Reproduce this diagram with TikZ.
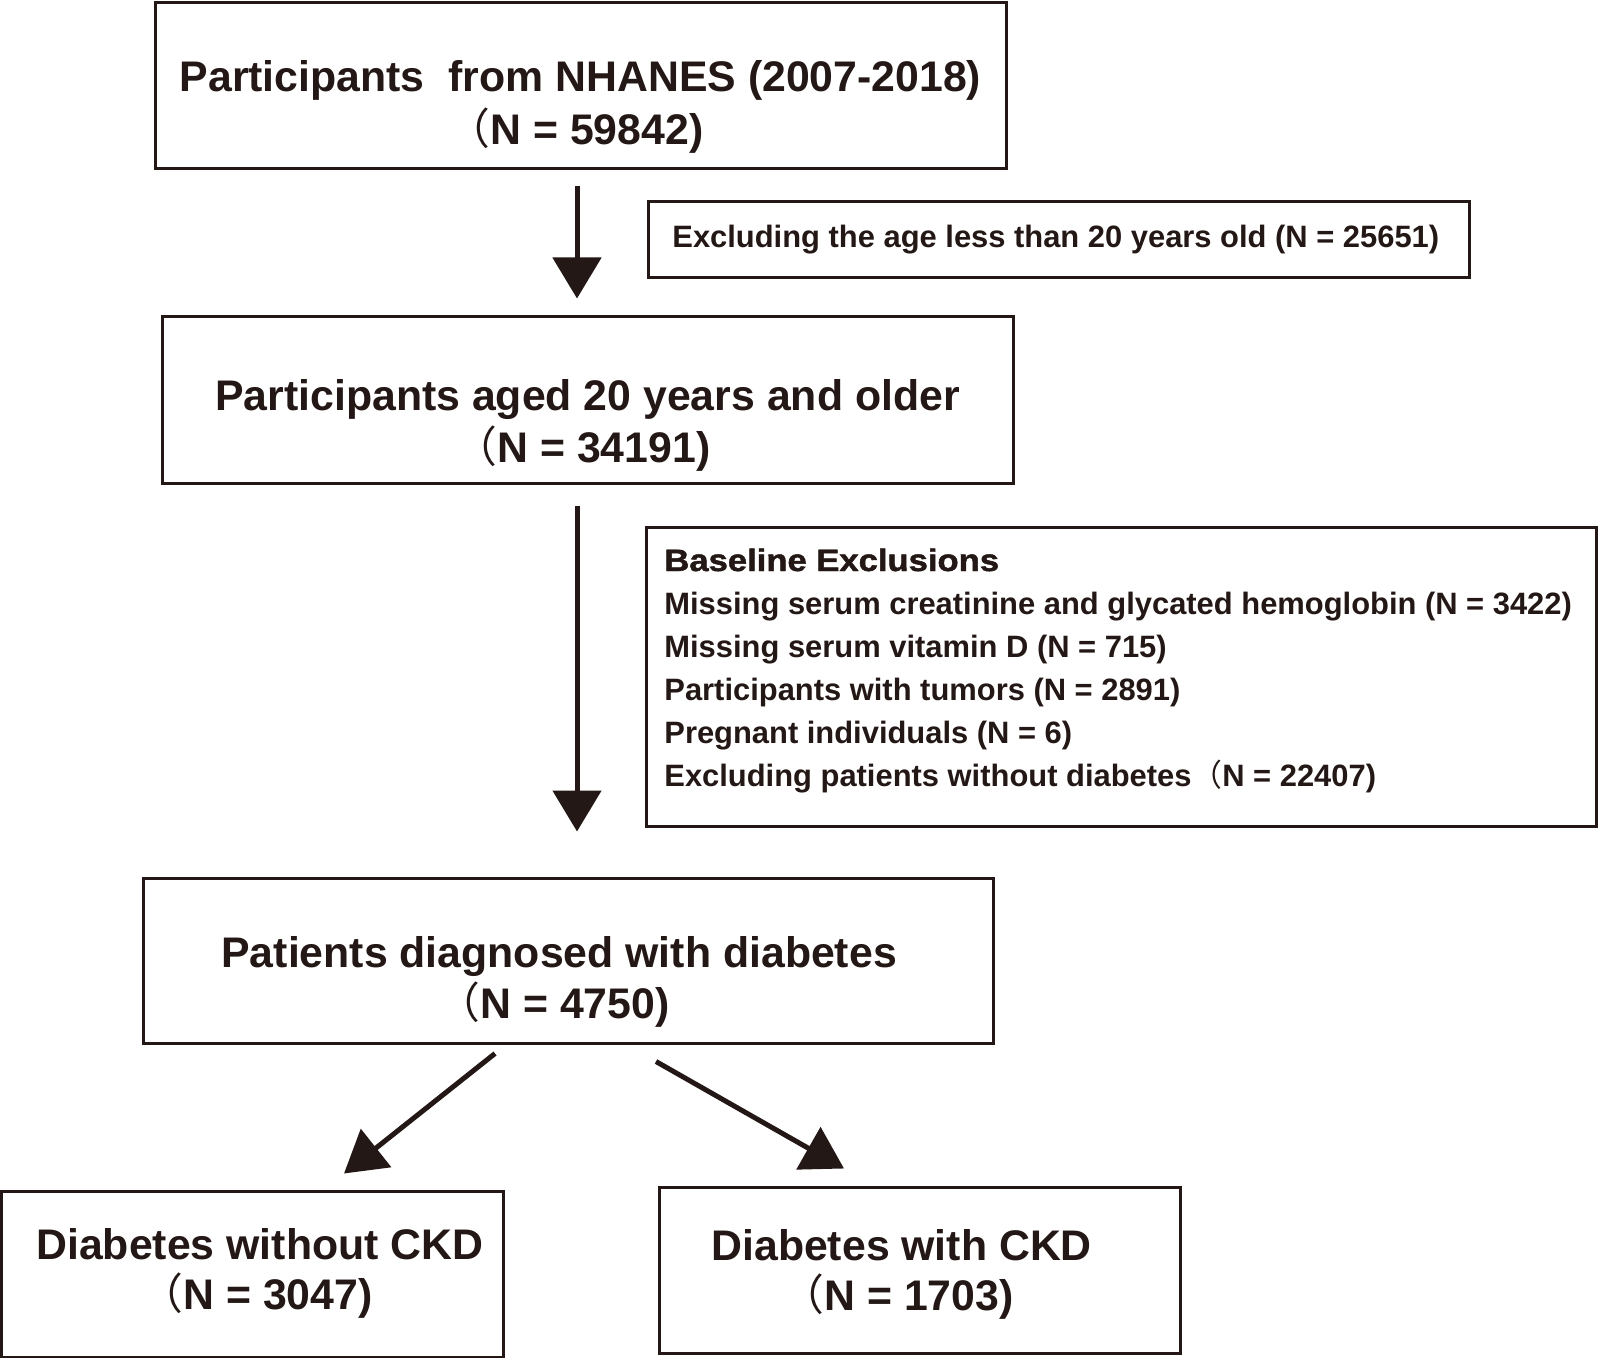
\documentclass[tikz,border=0pt]{standalone}
\usepackage{fontspec}
\setmainfont{Liberation Sans}
\newfontfamily\cjk{Noto Sans CJK JP}
\newfontfamily\heavy[FakeBold=1.5,FakeStretch=1.12]{Liberation Sans Bold}
\usetikzlibrary{arrows.meta}
\definecolor{ink}{HTML}{231815}
\newcommand\bigf{\fontsize{21.4pt}{25pt}\selectfont\bfseries}
\newcommand\smallf{\fontsize{15.45pt}{18pt}\selectfont\bfseries}
\newcommand\fwp{\llap{{\mdseries\cjk （}}}
\begin{document}
\begin{tikzpicture}[x=0.5pt,y=-0.5pt,
  box/.style={draw=ink, line width=1.5pt, inner sep=0pt, anchor=center},
  big/.style={inner sep=0pt, text=ink, font=\bigf},
  small/.style={inner sep=0pt, text=ink, font=\smallf},
  arr/.style={draw=ink, line width=2.5pt, -{Triangle[length=20.5pt,width=24pt]}}]
\useasboundingbox[fill=white] (0,0) rectangle (1600,1358);
% boxes
\node[box, minimum width=425.5pt, minimum height=83pt] (b1) at (580.5,86) {};
\node[box, minimum width=410.5pt, minimum height=38pt] (e1) at (1058.5,240) {};
\node[box, minimum width=425.5pt, minimum height=83pt] (b2) at (587.5,400) {};
\node[box, minimum width=475pt, minimum height=149.5pt] (e2) at (1121,676.5) {};
\node[box, minimum width=425pt, minimum height=82.5pt] (b3) at (568,960.5) {};
\node[box, minimum width=251pt, minimum height=83pt] (bl) at (252,1274) {};
\node[box, minimum width=260.5pt, minimum height=83pt] (br) at (919.5,1270) {};
% texts
\node[big, anchor=base] (t1a) at (580.5,92) {Participants\ \ from NHANES (2007-2018)};
\node[big, anchor=base west] (t1b) at (490,145) {\fwp N = 59842)};
\node[small, anchor=base west] (e1t) at (672,248) {Excluding the age less than 20 years old (N = 25651)};
\node[big, anchor=base] (t2a) at (587.5,410) {Participants aged 20 years and older};
\node[big, anchor=base west] (t2b) at (497,462) {\fwp N = 34191)};
\node[small, anchor=base west] (e2h) at (664,571) {\heavy Baseline Exclusions};
\node[small, anchor=base west] (e2a) at (664,614) {Missing serum creatinine and glycated hemoglobin (N = 3422)};
\node[small, anchor=base west] (e2b) at (664,657) {Missing serum vitamin D (N = 715)};
\node[small, anchor=base west] (e2c) at (664,700) {Participants with tumors (N = 2891)};
\node[small, anchor=base west] (e2d) at (664,743) {Pregnant individuals (N = 6)};
\node[small, anchor=base west] (e2e) at (664,786) {Excluding patients without diabetes{\mdseries\cjk （}N = 22407)};
\node[big, anchor=base west] (t3a) at (221,967) {Patients diagnosed with diabetes};
\node[big, anchor=base west] (t3b) at (480,1018) {\fwp N = 4750)};
\node[big, anchor=base west] (tla) at (36,1259) {Diabetes without CKD};
\node[big, anchor=base west] (tlb) at (183,1309) {\fwp N = 3047)};
\node[big, anchor=base west] (tra) at (711,1260) {Diabetes with CKD};
\node[big, anchor=base west] (trb) at (824,1310) {\fwp N = 1703)};
% arrows
\coordinate (ax) at (577,0);
\draw[arr, shorten <=8pt, shorten >=8.5pt] (b1.south -| ax) -- (b2.north -| ax);
\draw[arr, shorten <=10.5pt, shorten >=22.5pt] (b2.south -| ax) -- (b3.north -| ax);
\draw[arr] ([shift={(-73,9)}]b3.south) -- ([shift={(92,-16)}]bl.north);
\draw[arr] ([shift={(88,17)}]b3.south) -- ([shift={(-75.5,-17)}]br.north);
\end{tikzpicture}
\end{document}
